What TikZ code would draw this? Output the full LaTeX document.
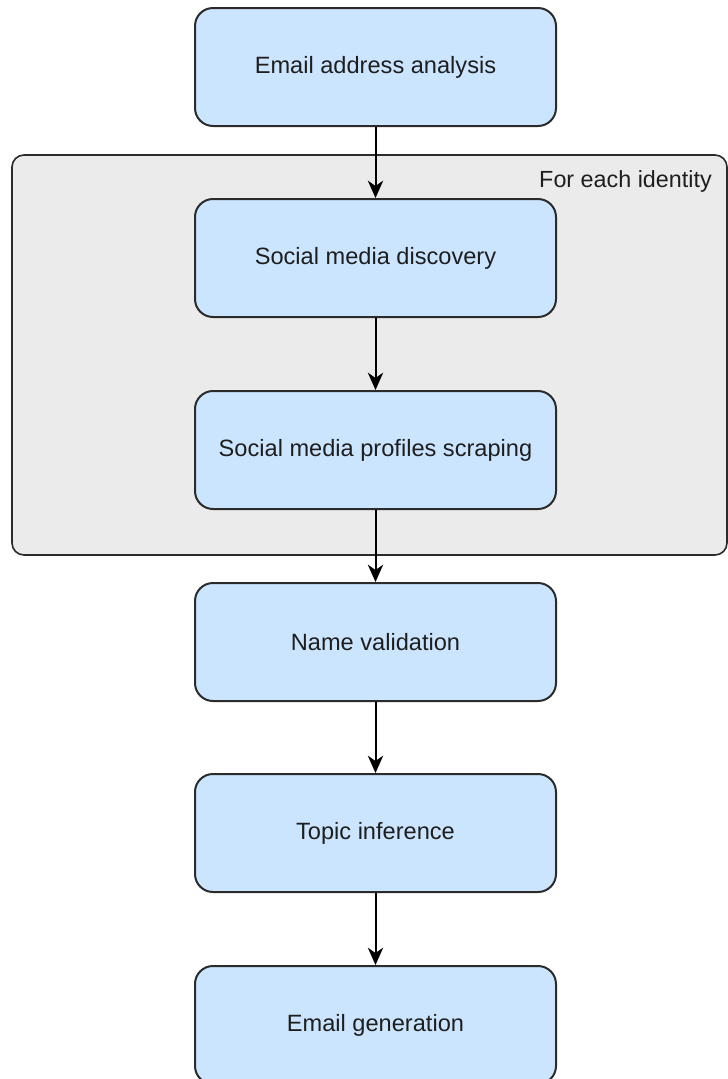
\documentclass[tikz,border=0pt]{standalone}
\usepackage{fontspec}
\setmainfont{Liberation Sans}
\usetikzlibrary{arrows.meta}
\definecolor{boxfill}{HTML}{CCE5FF}
\definecolor{grpfill}{HTML}{EBEBEB}
\definecolor{edgecol}{HTML}{2B2B2B}
\definecolor{txtcol}{HTML}{1E1E1E}
\tikzset{
  stepbox/.style={draw=edgecol, line width=1.5pt, fill=boxfill, rounded corners=13.5pt,
    minimum width=270.75pt, minimum height=88.5pt, inner sep=0pt, text=txtcol,
    font=\fontsize{17.7pt}{21pt}\selectfont},
  groupbox/.style={draw=edgecol, line width=1.2pt, fill=grpfill, rounded corners=9pt,
    minimum width=536.25pt, minimum height=300pt, inner sep=0pt},
  grplabel/.style={text=txtcol, font=\fontsize{17.5pt}{21pt}\selectfont, inner sep=0pt, anchor=east},
  arr/.style={draw=black, line width=1.5pt, -{Stealth[length=13pt, width=11.5pt, inset=4pt]}}
}
\begin{document}
\begin{tikzpicture}[x=0.75pt,y=-0.75pt]
\useasboundingbox (0,0) rectangle (728,1079);
\node[groupbox] (grp) at (369.5,355) {};
\node[grplabel] (grplbl) at (712,181) {For each identity};
\node[stepbox] (b1) at (375.5,67) {Email address analysis};
\node[stepbox] (b2) at (375.5,258) {Social media discovery};
\node[stepbox] (b3) at (375.5,450) {Social media profiles scraping};
\node[stepbox] (b4) at (375.5,642) {Name validation};
\node[stepbox] (b5) at (375.5,833) {Topic inference};
\node[stepbox] (b6) at (375.5,1025) {Email generation};
\draw[arr] (b1) -- (b2);
\draw[arr] (b2) -- (b3);
\draw[arr] (b3) -- (b4);
\draw[arr] (b4) -- (b5);
\draw[arr] (b5) -- (b6);
\end{tikzpicture}
\end{document}
